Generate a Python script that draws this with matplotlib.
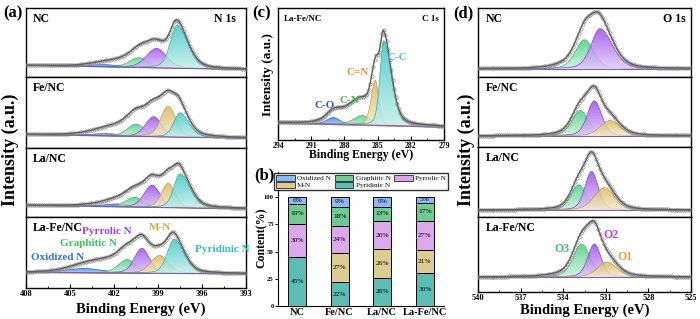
import numpy as np
import matplotlib
matplotlib.use('Agg')
import matplotlib.pyplot as plt
from matplotlib.colors import LinearSegmentedColormap, to_rgb
from matplotlib.patches import Polygon, Patch

plt.rcParams['font.family'] = ['Liberation Serif', 'DejaVu Serif']
plt.rcParams['font.weight'] = 'bold'
plt.rcParams['axes.labelweight'] = 'bold'

# ---------------- N 1s (panel a) ----------------
n_samples = ['NC', 'Fe/NC', 'La/NC', 'La-Fe/NC']
n_components = ['Pyridinic N', 'M-N', 'Pyrrolic N', 'Graphitic N', 'Oxidized N']
n_centers = [[397.7, 398.4, 399.1, 400.3, 402.6],
             [397.5, 398.3, 399.3, 400.5, 402.5],
             [397.5, 398.3, 399.4, 400.6, 401.8],
             [397.9, 398.9, 400.1, 401.1, 404.0]]
n_heights = [[0.62, 0.00, 0.28, 0.14, 0.03],
             [0.34, 0.43, 0.28, 0.17, 0.03],
             [0.49, 0.35, 0.32, 0.14, 0.04],
             [0.48, 0.25, 0.35, 0.19, 0.06]]
n_fwhm_hi = [[1.1, 1.2, 1.6, 1.5, 2.5],
             [1.0, 1.2, 1.3, 1.4, 2.5],
             [1.0, 1.1, 1.3, 1.4, 2.0],
             [1.1, 1.4, 1.2, 1.4, 3.0]]
n_fwhm_lo = [[1.7, 1.2, 1.6, 1.5, 2.5],
             [1.4, 1.2, 1.3, 1.4, 2.5],
             [1.6, 1.1, 1.3, 1.4, 2.0],
             [1.6, 1.4, 1.2, 1.4, 3.0]]
# residual of the measured envelope above the fitted components (center, height, fwhm)
n_resid = [[400.5, 0.11, 4.0],
           [400.5, 0.17, 4.5],
           [400.5, 0.10, 4.5],
           [402.0, 0.17, 4.0]]
n_base_left = [0.17, 0.19, 0.17, 0.22]
n_base_right = [0.11, 0.14, 0.12, 0.20]
n_colors = ['#3ec8c2', '#dcb95e', '#9d4cec', '#4ccf86', '#3f7ef0']

# ---------------- C 1s (panel c) ----------------
c_components = ['C-C', 'C=N', 'C-N', 'C-O']
c_centers = [284.45, 285.2, 286.4, 289.0]
c_heights = [0.64, 0.34, 0.07, 0.05]
c_fwhm_hi = [0.8, 0.9, 1.8, 1.4]
c_fwhm_lo = [1.6, 0.7, 1.8, 1.4]
c_resid = [287.0, 0.13, 4.0]
c_base_left = 0.13
c_base_right = 0.10
c_colors = ['#3ec8c2', '#dcb95e', '#4ccf86', '#3f7ef0']

# ---------------- O 1s (panel d) ----------------
o_components = ['O1', 'O2', 'O3']
o_centers = [[530.5, 531.4, 532.5],
             [530.7, 531.8, 532.8],
             [531.1, 532.0, 532.9],
             [530.9, 531.8, 532.7]]
o_heights = [[0.00, 0.58, 0.42],
             [0.22, 0.50, 0.36],
             [0.32, 0.55, 0.36],
             [0.20, 0.44, 0.44]]
o_fwhm_hi = [[1.8, 1.5, 1.5],
             [1.6, 1.2, 1.4],
             [1.7, 1.1, 1.3],
             [1.6, 1.1, 1.4]]
o_fwhm_lo = [[1.8, 2.0, 1.5],
             [1.6, 1.2, 1.4],
             [1.7, 1.1, 1.3],
             [1.6, 1.1, 1.4]]
o_resid = [[532.3, 0.13, 3.5],
           [532.0, 0.05, 4.0],
           [532.0, 0.03, 4.0],
           [532.3, 0.07, 4.0]]
o_base = [0.12, 0.16, 0.10, 0.20]
o_colors = ['#dcb95e', '#9d4cec', '#4ccf86']

# ---------------- N content (panel b) ----------------
bar_labels = ['NC', 'Fe/NC', 'La/NC', 'La-Fe/NC']
pyridinic_pct = [45, 22, 26, 30]
mn_pct = [0, 27, 26, 21]
pyrrolic_pct = [30, 24, 26, 27]
graphitic_pct = [19, 18, 13, 17]
oxidized_pct = [6, 9, 9, 5]
bar_colors = {'Pyridinic N': '#5cbdb5', 'M-N': '#dccc92', 'Pyrrolic N': '#dca8ec',
              'Graphitic N': '#70ca92', 'Oxidized N': '#8cbaf6'}

W, H = 700, 319
fig = plt.figure(figsize=(W / 100, H / 100), dpi=100)


def px_axes(x0, y0, x1, y1):
    return fig.add_axes([x0 / W, 1 - y1 / H, (x1 - x0) / W, (y1 - y0) / H])


def pv(x, c, h, w_hi, w_lo, eta=0.3):
    w = np.where(x >= c, w_hi, w_lo)
    d = (x - c) / w
    g = np.exp(-4 * np.log(2) * d ** 2)
    lz = 1 / (1 + 4 * d ** 2)
    return h * ((1 - eta) * g + eta * lz)


def grad_fill(ax, x, base, top, color, z):
    verts = np.concatenate([np.column_stack([x, top]),
                            np.column_stack([x[::-1], base[::-1]])])
    poly = Polygon(verts, closed=True, facecolor='none', edgecolor='none',
                   transform=ax.transData)
    ax.add_patch(poly)
    rgb = np.array(to_rgb(color))
    cmap = LinearSegmentedColormap.from_list('g', [rgb * 0.3 + 0.7, rgb])
    grad = np.linspace(0, 1, 128).reshape(-1, 1)
    im = ax.imshow(grad, extent=[x.min(), x.max(), base.min(), top.max()],
                   origin='lower', aspect='auto', cmap=cmap, alpha=0.85,
                   zorder=z, interpolation='bilinear')
    im.set_clip_path(poly)
    ax.plot(x, top, color=rgb * 0.85, lw=0.5, zorder=z + 0.1)


def model(x, centers, heights, fhi, flo, resid, bl, br, xlo, xhi):
    base = br + (bl - br) * (x - xlo) / (xhi - xlo)
    comps = [pv(x, c, h, a, b) for c, h, a, b in zip(centers, heights, fhi, flo)]
    extra = pv(x, resid[0], resid[1], resid[2], resid[2])
    return base, comps, base + np.sum(comps, axis=0) + extra


def draw_spectrum(ax, xlo, xhi, centers, heights, fhi, flo, resid, colors, bl, br):
    x = np.linspace(xlo, xhi, 800)
    base, comps, env = model(x, centers, heights, fhi, flo, resid, bl, br, xlo, xhi)
    order = np.argsort(centers)[::-1]
    for k, i in enumerate(order):
        if heights[i] <= 0:
            continue
        grad_fill(ax, x, base, base + comps[i], colors[i], 2 + k)
    ax.plot(x, base, color='#e04040', lw=0.6, zorder=9)
    ax.plot(x, base - 0.005, color='#4060e0', lw=0.5, zorder=9)
    xs = np.arange(xhi, xlo, -(xhi - xlo) / 110)
    _, _, env_s = model(xs, centers, heights, fhi, flo, resid, bl, br, xlo, xhi)
    ax.plot(xs, env_s, 'o', ms=2.4, mfc='none', mec='#8a8a8a', mew=0.5, zorder=10)
    ax.plot(x, env, color='#606060', lw=1.0, zorder=11)
    ax.set_xlim(xhi, xlo)
    ax.set_ylim(0, 1)


def style_stack(ax, bottom, ticks, fs=6):
    ax.set_yticks([])
    for s in ax.spines.values():
        s.set_linewidth(1.0)
    if bottom:
        ax.set_xticks(ticks)
        ax.set_xticklabels([str(t) for t in ticks], fontsize=fs, fontweight='bold')
        ax.set_xticks(np.arange(ticks[-1], ticks[0], 1.5), minor=True)
        ax.tick_params(axis='x', which='major', direction='in', length=3, width=0.8, pad=1.5)
        ax.tick_params(axis='x', which='minor', direction='in', length=1.5, width=0.6)
    else:
        ax.set_xticks([])


# ---- panel (a) ----
a_edges = [8, 77, 148, 217, 288]
for i in range(4):
    ax = px_axes(26, a_edges[i], 246, a_edges[i + 1])
    draw_spectrum(ax, 393, 408, n_centers[i], n_heights[i], n_fwhm_hi[i], n_fwhm_lo[i],
                  n_resid[i], n_colors, n_base_left[i], n_base_right[i])
    style_stack(ax, i == 3, [408, 405, 402, 399, 396, 393])
    hpx = a_edges[i + 1] - a_edges[i]
    ax.text(7 / 220, 1 - 11 / hpx, n_samples[i], transform=ax.transAxes,
            fontsize=8.5, fontweight='bold', va='center', ha='left')
    if i == 0:
        ax.text(1 - 10 / 220, 1 - 11 / hpx, 'N 1s', transform=ax.transAxes,
                fontsize=8.5, fontweight='bold', va='center', ha='right')
    if i == 3:
        fig.text(107 / W, 1 - 231 / H, 'Pyrrolic N', color='#a040f0', fontsize=8,
                 fontweight='bold', ha='center', va='center')
        fig.text(160 / W, 1 - 227 / H, 'M-N', color='#d8a840', fontsize=8,
                 fontweight='bold', ha='center', va='center')
        fig.text(88 / W, 1 - 244 / H, 'Graphitic N', color='#40c060', fontsize=8,
                 fontweight='bold', ha='center', va='center')
        fig.text(58 / W, 1 - 257 / H, 'Oxidized N', color='#3070f0', fontsize=8,
                 fontweight='bold', ha='center', va='center')
        fig.text(222 / W, 1 - 250 / H, 'Pyridinic N', color='#30c0c0', fontsize=8,
                 fontweight='bold', ha='center', va='center')

fig.text(10 / W, 1 - 150 / H, 'Intensity (a.u.)', rotation=90, fontsize=13,
         fontweight='bold', ha='center', va='center')
fig.text(141 / W, 1 - 309 / H, 'Binding Energy (eV)', fontsize=10.5,
         fontweight='bold', ha='center', va='center')

# ---- panel (c) ----
axc = px_axes(278, 8, 444, 140)
draw_spectrum(axc, 279, 294, c_centers, c_heights, c_fwhm_hi, c_fwhm_lo, c_resid,
              c_colors, c_base_left, c_base_right)
style_stack(axc, True, [294, 291, 288, 285, 282, 279], fs=5.5)
axc.text(6 / 166, 1 - 11 / 132, 'La-Fe/NC', transform=axc.transAxes, fontsize=6.5,
         fontweight='bold', va='center', ha='left')
axc.text(1 - 5 / 166, 1 - 11 / 132, 'C 1s', transform=axc.transAxes, fontsize=6.5,
         fontweight='bold', va='center', ha='right')
fig.text(397 / W, 1 - 57 / H, 'C-C', color='#6ab0f0', fontsize=8, fontweight='bold', ha='center', va='center')
fig.text(358 / W, 1 - 72 / H, 'C=N', color='#e09040', fontsize=8, fontweight='bold', ha='center', va='center')
fig.text(349 / W, 1 - 100 / H, 'C-N', color='#40c040', fontsize=8, fontweight='bold', ha='center', va='center')
fig.text(325 / W, 1 - 105 / H, 'C-O', color='#3050f0', fontsize=8, fontweight='bold', ha='center', va='center')
fig.text(268 / W, 1 - 74 / H, 'Intensity (a.u.)', rotation=90, fontsize=9.5,
         fontweight='bold', ha='center', va='center')
fig.text(361 / W, 1 - 155 / H, 'Binding Energy (eV)', fontsize=8.5,
         fontweight='bold', ha='center', va='center')

# ---- panel (b) ----
axb = px_axes(278, 172, 444, 306)
pos = np.arange(len(bar_labels))
series = [('Pyridinic N', pyridinic_pct), ('M-N', mn_pct), ('Pyrrolic N', pyrrolic_pct),
          ('Graphitic N', graphitic_pct), ('Oxidized N', oxidized_pct)]
bottom = np.zeros(len(bar_labels))
for name, vals in series:
    vals = np.array(vals, dtype=float)
    axb.bar(pos, vals, 0.43, bottom=bottom, color=bar_colors[name], edgecolor='black',
            linewidth=0.7, zorder=3)
    for p, v, b0 in zip(pos, vals, bottom):
        if v > 0:
            axb.text(p, b0 + v / 2, f'{int(v)}%', ha='center', va='center',
                     fontsize=5.3, fontweight='normal', zorder=4)
    bottom += vals
axb.set_xlim(-0.45, 3.45)
axb.set_ylim(0, 123)
axb.set_yticks([0, 25, 50, 75, 100])
axb.set_yticklabels(['0', '25', '50', '75', '100'], fontsize=4.8, fontweight='bold')
axb.set_xticks(pos)
axb.set_xticklabels(bar_labels, fontsize=7.5, fontweight='bold')
axb.tick_params(axis='y', direction='out', length=2, width=0.7, pad=1)
axb.tick_params(axis='x', length=0, pad=1.5)
for s in axb.spines.values():
    s.set_linewidth(0.8)
axb.spines['top'].set_visible(False)
axb.spines['right'].set_visible(False)
leg_order = ['Oxidized N', 'M-N', 'Graphitic N', 'Pyridinic N', 'Pyrrolic N']
handles = [Patch(facecolor=bar_colors[n], edgecolor='black', linewidth=0.5, label=n)
           for n in leg_order]
axb.legend(handles=handles, loc='upper center', ncol=3, frameon=True,
           fancybox=False, edgecolor='black', handlelength=2.6, handleheight=0.9,
           columnspacing=0.5, handletextpad=0.3, borderpad=0.25, labelspacing=0.1,
           borderaxespad=0.1, bbox_to_anchor=(0.5, 1.0), prop={'weight': 'normal', 'size': 5.2})
fig.text(262 / W, 1 - 238 / H, 'Content(%)', rotation=90, fontsize=8.5,
         fontweight='bold', ha='center', va='center')

# ---- panel (d) ----
d_edges = [8, 77, 147, 217, 292]
for i in range(4):
    ax = px_axes(478, d_edges[i], 691, d_edges[i + 1])
    draw_spectrum(ax, 525, 540, o_centers[i], o_heights[i], o_fwhm_hi[i], o_fwhm_lo[i],
                  o_resid[i], o_colors, o_base[i], o_base[i])
    style_stack(ax, i == 3, [540, 537, 534, 531, 528, 525])
    hpx = d_edges[i + 1] - d_edges[i]
    ax.text(8 / 213, 1 - 11 / hpx, n_samples[i], transform=ax.transAxes,
            fontsize=8.5, fontweight='bold', va='center', ha='left')
    if i == 0:
        ax.text(1 - 5 / 213, 1 - 11 / hpx, 'O 1s', transform=ax.transAxes,
                fontsize=8.5, fontweight='bold', va='center', ha='right')
fig.text(562 / W, 1 - 249 / H, 'O3', color='#40c070', fontsize=8.5, fontweight='bold', ha='center', va='center')
fig.text(611 / W, 1 - 235 / H, 'O2', color='#b040f0', fontsize=8.5, fontweight='bold', ha='center', va='center')
fig.text(625 / W, 1 - 257 / H, 'O1', color='#e0a040', fontsize=8.5, fontweight='bold', ha='center', va='center')
fig.text(466 / W, 1 - 150 / H, 'Intensity (a.u.)', rotation=90, fontsize=13,
         fontweight='bold', ha='center', va='center')
fig.text(585 / W, 1 - 310 / H, 'Binding Energy (eV)', fontsize=10.5,
         fontweight='bold', ha='center', va='center')

# panel letters
for lbl, xx, yy in [('(a)', 13, 13), ('(c)', 262, 13), ('(b)', 264, 175), ('(d)', 463, 13)]:
    fig.text(xx / W, 1 - yy / H, lbl, fontsize=12, fontweight='bold', ha='center', va='center')

fig.savefig('out.png', dpi=100)
